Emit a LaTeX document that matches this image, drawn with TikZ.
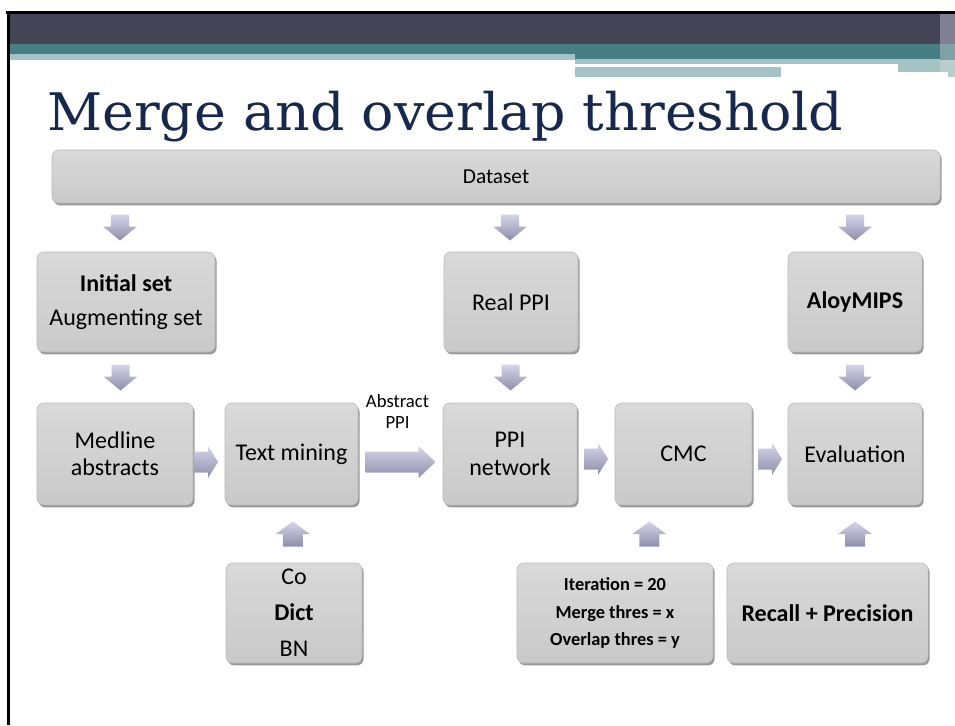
\documentclass[tikz,border=0pt]{standalone}
\usepackage{graphicx}
\usepackage{fontspec}
\setmainfont{Carlito}
\newfontfamily\titlefont{DejaVu Serif}
\usetikzlibrary{calc,shadows}

\definecolor{bandgray}{HTML}{434556}
\definecolor{bandteal}{HTML}{457F84}
\definecolor{paleteal}{HTML}{A4C3C4}
\definecolor{titleblue}{HTML}{17284E}
\definecolor{boxtop}{HTML}{D9D9D9}
\definecolor{boxbot}{HTML}{C9C9C9}
\definecolor{arrowlight}{HTML}{D4D4E8}
\definecolor{arrowdark}{HTML}{8E8EAC}

\tikzset{
  box/.style={draw=gray!55, line width=0.4pt, rounded corners=5pt,
    top color=boxtop, bottom color=boxbot, inner sep=0pt, align=center,
    drop shadow={shadow xshift=1.2pt, shadow yshift=-1.8pt, opacity=0.4, fill=black},
    font=\fontsize{18}{20.5}\selectfont},
  boxsize/.style 2 args={minimum width=#1, minimum height=#2},
  arrowfill/.style={top color=arrowlight, bottom color=arrowdark},
  downarr/.pic={\shade[arrowfill] (-9,-13) -- (9,-13) -- (9,-1) -- (17,-1)
      -- (0,13) -- (-17,-1) -- (-9,-1) -- cycle;},
  uparr/.pic={\shade[arrowfill] (-10,12.5) -- (10,12.5) -- (10,0) -- (17,0)
      -- (0,-12.5) -- (-17,0) -- (-10,0) -- cycle;},
  rightarr/.pic={\shade[arrowfill] (-12,-10.5) -- (2,-10.5) -- (2,-16) -- (12,0)
      -- (2,16) -- (2,10.5) -- (-12,10.5) -- cycle;},
  longarr/.pic={\shade[arrowfill] (-35,-10.5) -- (18,-10.5) -- (18,-16) -- (35,0)
      -- (18,16) -- (18,10.5) -- (-35,10.5) -- cycle;},
}

\begin{document}
\begin{tikzpicture}[x=0.75pt,y=-0.75pt]
\useasboundingbox (0,0) rectangle (955,725);

% header band
\fill[bandgray] (9,14) rectangle (940,44);
\fill[bandteal] (9,44) rectangle (940,54);
\fill[bandteal] (575,54) rectangle (940,59);
\fill[paleteal] (9,54) rectangle (575,60);
\fill[paleteal] (575,59) rectangle (940,64);
\fill[paleteal] (898,64) rectangle (940,72);
\fill[paleteal] (575,67) rectangle (781,77);
\fill[fill={rgb,255:red,128;green,128;blue,146}] (940,14) rectangle (955,44);
\fill[fill={rgb,255:red,128;green,162;blue,166}] (940,44) rectangle (955,60);
\fill[fill={rgb,255:red,186;green,206;blue,207}] (940,60) rectangle (955,72);
\fill[fill={rgb,255:red,186;green,206;blue,207}] (948,72) rectangle (955,77);
\fill[black] (6,11) rectangle (955,14);
\fill[black] (7,11) rectangle (9.5,725);

% title
\node[anchor=base west, inner sep=0pt, text=titleblue] (title) at (47,130)
  {\resizebox{597pt}{29.5pt}{\titlefont Merge and overlap threshold}};

% boxes
\node[box, boxsize={666pt}{39.75pt}, font=\fontsize{16}{19}\selectfont] (data)
  at (496,176.5) {Dataset};

\node[box, boxsize={133.5pt}{75pt}, font=\fontsize{18}{25.5}\selectfont] (init)
  at (126,302) {\textbf{Initial set}\\Augmenting set};
\node[box, boxsize={100.5pt}{75pt}] (real) at (511,302) {Real PPI};
\node[box, boxsize={100.5pt}{75pt}] (aloy) at (855,302) {\textbf{AloyMIPS}};

\node[box, boxsize={117pt}{76.5pt}] (med) at (115,454) {Medline\\abstracts};
\node[box, boxsize={99.75pt}{76.5pt}] (tm) at (291.5,454) {Text mining};
\node[box, boxsize={100.5pt}{76.5pt}] (ppi) at (510,454) {PPI\\network};
\node[box, boxsize={102.75pt}{76.5pt}] (cmc) at (683.5,454) {CMC};
\node[box, boxsize={100.5pt}{76.5pt}] (eval) at (855,454) {Evaluation};

\node[box, boxsize={102pt}{75pt}, font=\fontsize{18}{27}\selectfont] (dict)
  at (294,613) {Co\\\textbf{Dict}\\BN};
\node[box, boxsize={147pt}{75pt}, font=\bfseries\fontsize{13.8}{20.6}\selectfont] (param)
  at (615,613) {Iteration = 20\\Merge thres = x\\Overlap thres = y};
\node[box, boxsize={150.75pt}{75pt}, font=\bfseries\fontsize{18}{21}\selectfont] (metric)
  at (827.5,613) {Recall + Precision};

\node[align=center, inner sep=0pt, font=\fontsize{14}{16}\selectfont] (lbl)
  at ($(tm.north east)!0.5!(ppi.north west)+(-3,9)$) {Abstract\\PPI};

% block arrows between the boxes
\pic at ($(init.north)!0.5!(init.north |- data.south)+(-6,0)$) {downarr};
\pic at ($(ppi.north |- real.north)!0.5!(ppi.north |- data.south)$) {downarr};
\pic at ($(aloy.north)!0.5!(aloy.north |- data.south)$) {downarr};

\pic at ($(init.south)!0.5!(med.north)$) {downarr};
\pic at ($(real.south)!0.5!(ppi.north)$) {downarr};
\pic at ($(aloy.south)!0.5!(eval.north)$) {downarr};

\pic at ($(med.east)!0.5!(tm.west)+(-3,8)$) {rightarr};
\pic at ($(tm.east)!0.5!(ppi.west)+(0,8)$) {longarr};
\pic at ($(ppi.east)!0.5!(cmc.west)+(0,5)$) {rightarr};
\pic at ($(cmc.east)!0.5!(eval.west)+(0,5)$) {rightarr};

\pic at ($(tm.south)!0.5!(dict.north)$) {uparr};
\pic at ($(cmc.south)!0.5!(param.north)$) {uparr};
\pic at ($(eval.south)!0.5!(eval.south |- metric.north)$) {uparr};
\end{tikzpicture}
\end{document}
